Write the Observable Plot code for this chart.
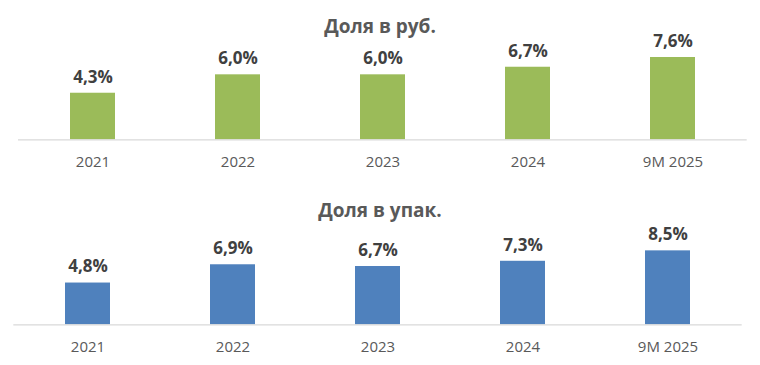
<!DOCTYPE html>
<html><head><meta charset="utf-8">
<script src="https://cdn.jsdelivr.net/npm/d3@7"></script>
<script src="https://cdn.jsdelivr.net/npm/@observablehq/plot@0.6"></script>
<style>
body{margin:0;background:#fff;font-family:"Open Sans",sans-serif;}
#wrap{position:relative;width:760px;height:365px;overflow:hidden;}
.chart{position:absolute;left:0;}
.title{position:absolute;left:0;width:760px;text-align:center;font:bold 19px "Open Sans",sans-serif;color:#595959;line-height:24px;}
</style></head>
<body><div id="wrap"></div>
<script>
const categories = ["2021","2022","2023","2024","9M 2025"];
const rubValues = [4.3, 6.0, 6.0, 6.7, 7.6];
const packValues = [4.8, 6.9, 6.7, 7.3, 8.5];
const titles = ["Доля в руб.", "Доля в упак."];

const fmt = v => v.toFixed(1).replace(".", ",") + "%";
const wrap = document.getElementById("wrap");

function chart(values, color, opts) {
  const data = categories.map((c, i) => ({cat: c, v: values[i]}));
  const svg = Plot.plot({
    width: 760, height: opts.height,
    marginLeft: opts.ml, marginRight: opts.mr, marginTop: opts.mt, marginBottom: opts.mb,
    x: {domain: categories, paddingInner: 0.69, paddingOuter: 0.345, tickSize: 0, tickPadding: 17, label: null},
    y: {domain: [0, 10], axis: null},
    style: {fontFamily: "Open Sans, sans-serif", fontSize: "15px", color: "#595959", background: "transparent"},
    marks: [
      Plot.barY(data, {x: "cat", y: "v", fill: color}),
      Plot.ruleY([0], {stroke: "#d9d9d9", strokeWidth: 1.3}),
      Plot.text(data, {x: "cat", y: "v", text: d => fmt(d.v), dy: -16, fontSize: 17, fontWeight: "bold", fill: "#404040"})
    ]
  });
  svg.classList.add("chart");
  svg.style.top = opts.top + "px";
  wrap.appendChild(svg);
}

chart(rubValues, "#9bbb59", {top: 0, height: 180, ml: 18, mr: 13.3, mt: 31, mb: 40.7});
chart(packValues, "#4f81bd", {top: 180, height: 185, ml: 13.3, mr: 18.3, mt: 57.3, mb: 40.7});

[[titles[0], 14], [titles[1], 198]].forEach(([t, y]) => {
  const d = document.createElement("div");
  d.className = "title";
  d.style.top = y + "px";
  d.textContent = t;
  wrap.appendChild(d);
});
</script></body></html>
